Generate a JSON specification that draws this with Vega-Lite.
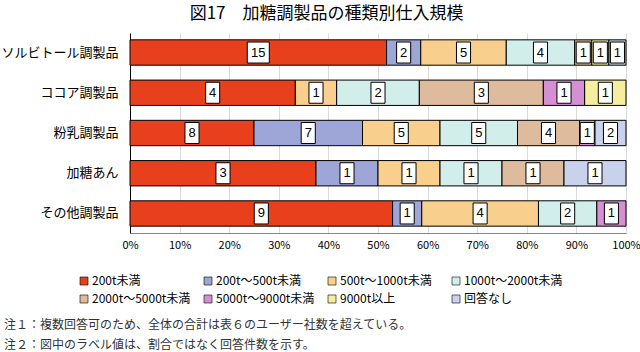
{
  "$schema": "https://vega.github.io/schema/vega-lite/v6.json",
  "padding": {"left": 0, "top": 5, "right": 0, "bottom": 0},
  "title": {
    "text": ["注１：複数回答可のため、全体の合計は表６のユーザー社数を超えている。", "注２：図中のラベル値は、割合ではなく回答件数を示す。"],
    "orient": "bottom", "anchor": "start", "frame": "bounds",
    "font": "Noto Sans CJK JP", "fontSize": 12, "fontWeight": "normal", "color": "#333333",
    "lineHeight": 20, "offset": 15, "dx": 3
  },
  "config": {"view": {"stroke": null}, "font": "Noto Sans CJK JP"},
  "vconcat": [
    {
      "title": {
        "text": "図17　加糖調製品の種類別仕入規模",
        "font": "Noto Sans CJK JP", "fontSize": 17, "fontWeight": "normal", "color": "#000000",
        "anchor": "middle", "frame": "bounds", "offset": 10, "dx": 6
      },
      "width": 496,
      "height": 200,
      "data": {
        "values": [
          {"cat": "ソルビトール調製品", "size": "200t未満", "k": 0, "n": 15},
          {"cat": "ソルビトール調製品", "size": "200t～500t未満", "k": 1, "n": 2},
          {"cat": "ソルビトール調製品", "size": "500t～1000t未満", "k": 2, "n": 5},
          {"cat": "ソルビトール調製品", "size": "1000t～2000t未満", "k": 3, "n": 4},
          {"cat": "ソルビトール調製品", "size": "2000t～5000t未満", "k": 4, "n": 1},
          {"cat": "ソルビトール調製品", "size": "9000t以上", "k": 6, "n": 1},
          {"cat": "ソルビトール調製品", "size": "回答なし", "k": 7, "n": 1},
          {"cat": "ココア調製品", "size": "200t未満", "k": 0, "n": 4},
          {"cat": "ココア調製品", "size": "500t～1000t未満", "k": 2, "n": 1},
          {"cat": "ココア調製品", "size": "1000t～2000t未満", "k": 3, "n": 2},
          {"cat": "ココア調製品", "size": "2000t～5000t未満", "k": 4, "n": 3},
          {"cat": "ココア調製品", "size": "5000t～9000t未満", "k": 5, "n": 1},
          {"cat": "ココア調製品", "size": "9000t以上", "k": 6, "n": 1},
          {"cat": "粉乳調製品", "size": "200t未満", "k": 0, "n": 8},
          {"cat": "粉乳調製品", "size": "200t～500t未満", "k": 1, "n": 7},
          {"cat": "粉乳調製品", "size": "500t～1000t未満", "k": 2, "n": 5},
          {"cat": "粉乳調製品", "size": "1000t～2000t未満", "k": 3, "n": 5},
          {"cat": "粉乳調製品", "size": "2000t～5000t未満", "k": 4, "n": 4},
          {"cat": "粉乳調製品", "size": "5000t～9000t未満", "k": 5, "n": 1},
          {"cat": "粉乳調製品", "size": "回答なし", "k": 7, "n": 2},
          {"cat": "加糖あん", "size": "200t未満", "k": 0, "n": 3},
          {"cat": "加糖あん", "size": "200t～500t未満", "k": 1, "n": 1},
          {"cat": "加糖あん", "size": "500t～1000t未満", "k": 2, "n": 1},
          {"cat": "加糖あん", "size": "1000t～2000t未満", "k": 3, "n": 1},
          {"cat": "加糖あん", "size": "2000t～5000t未満", "k": 4, "n": 1},
          {"cat": "加糖あん", "size": "回答なし", "k": 7, "n": 1},
          {"cat": "その他調製品", "size": "200t未満", "k": 0, "n": 9},
          {"cat": "その他調製品", "size": "200t～500t未満", "k": 1, "n": 1},
          {"cat": "その他調製品", "size": "500t～1000t未満", "k": 2, "n": 4},
          {"cat": "その他調製品", "size": "1000t～2000t未満", "k": 3, "n": 2},
          {"cat": "その他調製品", "size": "5000t～9000t未満", "k": 5, "n": 1}
        ]
      },
      "transform": [
        {"stack": "n", "groupby": ["cat"], "sort": [{"field": "k", "order": "ascending"}], "offset": "normalize", "as": ["x0", "x1"]},
        {"calculate": "(datum.x0 + datum.x1) / 2", "as": "mid"}
      ],
      "encoding": {
        "y": {
          "field": "cat", "type": "nominal", "title": null,
          "sort": ["ソルビトール調製品", "ココア調製品", "粉乳調製品", "加糖あん", "その他調製品"],
          "scale": {"paddingInner": 0.37, "paddingOuter": 0.17},
          "axis": {
            "domain": true, "domainColor": "#000000", "domainWidth": 1, "ticks": false,
            "labelFont": "Noto Sans CJK JP", "labelFontSize": 13, "labelColor": "#000000", "labelPadding": 12
          }
        }
      },
      "layer": [
        {
          "mark": {"type": "bar", "stroke": "#000000", "strokeWidth": 1},
          "encoding": {
            "x": {
              "field": "x0", "type": "quantitative", "title": null,
              "scale": {"domain": [0, 1]},
              "axis": {
                "format": "%", "values": [0, 0.1, 0.2, 0.3, 0.4, 0.5, 0.6, 0.7, 0.8, 0.9, 1],
                "labelFlush": false, "labelOverlap": false,
                "ticks": false, "domainColor": "#888888", "gridColor": "#d9d9d9", "grid": true,
                "labelFont": "Noto Sans CJK JP", "labelFontSize": 11, "labelColor": "#000000", "labelPadding": 6
              }
            },
            "x2": {"field": "x1"},
            "color": {
              "field": "size", "type": "nominal",
              "scale": {
                "domain": ["200t未満", "200t～500t未満", "500t～1000t未満", "1000t～2000t未満", "2000t～5000t未満", "5000t～9000t未満", "9000t以上", "回答なし"],
                "range": ["#E8401C", "#9EA6D8", "#F8CF8C", "#D2EEEB", "#DDBB9C", "#D490D2", "#F4EE9E", "#C8D2EC"]
              },
              "legend": {
                "title": null, "orient": "none", "legendX": -52, "legendY": 242,
                "direction": "horizontal", "columns": 4, "gridAlign": "all",
                "columnPadding": 11, "rowPadding": 6,
                "symbolType": "square", "symbolSize": 64, "symbolStrokeColor": "#000000", "symbolStrokeWidth": 0.6,
                "labelFont": "Noto Sans CJK JP", "labelFontSize": 12, "labelColor": "#000000", "labelOffset": 2
              }
            }
          }
        },
        {
          "mark": {"type": "point", "filled": true, "fill": "#ffffff", "stroke": "#000000", "strokeWidth": 1, "opacity": 1, "size": 441},
          "encoding": {
            "x": {"field": "mid", "type": "quantitative", "title": null},
            "shape": {
              "condition": {"test": "datum.n >= 10", "value": "M-1.05,-1H1.05V1H-1.05Z"},
              "value": "M-0.67,-1H0.67V1H-0.67Z"
            }
          }
        },
        {
          "mark": {"type": "text", "font": "Liberation Sans", "fontSize": 13, "color": "#000000"},
          "encoding": {
            "x": {"field": "mid", "type": "quantitative", "title": null},
            "text": {"field": "n", "type": "quantitative"}
          }
        }
      ]
    }
  ]
}
